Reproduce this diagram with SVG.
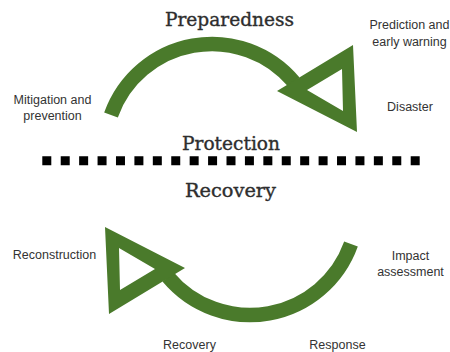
<svg xmlns="http://www.w3.org/2000/svg" xmlns:xlink="http://www.w3.org/1999/xlink" width="450" height="352" viewBox="0 0 450 352">
<style>
.title{font-family:"DejaVu Serif","Liberation Serif",serif;font-size:18px;fill:#2e2e2e;stroke:#2e2e2e;stroke-width:0.35;text-anchor:middle}
.lbl{font-family:"Liberation Sans",Arial,sans-serif;font-size:12.5px;fill:#333;text-anchor:middle}
.arc{fill:none;stroke:#4a7a2b;stroke-width:14.5;stroke-linecap:butt}
.head{fill:#4a7a2b;fill-rule:evenodd}
</style>
<defs>
<g id="cycleArrow">
<path class="arc" d="M111,115 A107.2,107.2 0 0 1 294,82.2"/>
<path class="head" d="M277,91 L353,45 L357,132 Z M307,90 L343,111 L342,69 Z"/>
</g>
</defs>
<rect width="450" height="352" fill="#fff"/>
<g id="connectors">
<use xlink:href="#cycleArrow"/>
<use xlink:href="#cycleArrow" transform="rotate(180 231 179.5)"/>
<line x1="42.3" y1="160.8" x2="420" y2="160.8" stroke="#000" stroke-width="9" stroke-dasharray="9 9.42"/>
</g>
<g id="preparedness"><text class="title" x="229.5" y="26" textLength="129" lengthAdjust="spacingAndGlyphs">Preparedness</text></g>
<g id="protection"><text class="title" x="231" y="149.5" textLength="98" lengthAdjust="spacingAndGlyphs">Protection</text></g>
<g id="recovery-title"><text class="title" x="230.5" y="197" textLength="91" lengthAdjust="spacingAndGlyphs">Recovery</text></g>
<g id="prediction"><text class="lbl" x="409.5" y="29">Prediction and</text><text class="lbl" x="409.5" y="45.5">early warning</text></g>
<g id="disaster"><text class="lbl" x="410" y="110.5">Disaster</text></g>
<g id="mitigation"><text class="lbl" x="52.5" y="103.5">Mitigation and</text><text class="lbl" x="52.5" y="120">prevention</text></g>
<g id="reconstruction"><text class="lbl" x="54.5" y="259">Reconstruction</text></g>
<g id="impact"><text class="lbl" x="410.5" y="260">Impact</text><text class="lbl" x="410.5" y="276">assessment</text></g>
<g id="recovery"><text class="lbl" x="189.5" y="348.5">Recovery</text></g>
<g id="response"><text class="lbl" x="337.5" y="348.5">Response</text></g>
</svg>
